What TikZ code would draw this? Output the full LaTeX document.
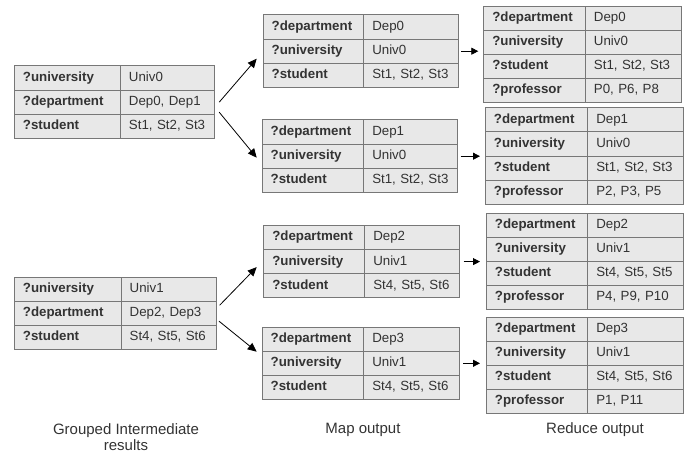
\documentclass[tikz,border=0pt]{standalone}
\usepackage{fontspec}
\setmainfont{Liberation Sans}
\usetikzlibrary{arrows.meta,calc}
\definecolor{cellfill}{HTML}{E8E8E8}
\definecolor{cellline}{HTML}{777777}
\definecolor{txt}{HTML}{333333}
\tikzset{
 cell/.style={draw=cellline, fill=cellfill, line width=0.9pt, inner xsep=8.5pt, inner ysep=0pt,
   text height=9.6pt, text depth=2.7pt, align=left, anchor=north west, text=txt,
   font=\fontsize{13.3}{15}\selectfont},
 keycell/.style={cell, font=\fontsize{13.3}{15}\selectfont\bfseries},
 bigarrow/.style={-{Triangle[length=9pt,width=8pt]}, line width=0.8pt, black},
 smallarrow/.style={-{Triangle[length=7pt,width=7pt]}, line width=0.8pt, black},
 caption/.style={font=\fontsize{15}{16}\selectfont, text=txt, align=center, inner sep=1pt}
}
\newcommand\settable[6]{\def\tbN{#1}\def\tbL{#2}\def\tbD{#3}\def\tbR{#4}\def\tbT{#5}\def\tbH{#6}}
\newcommand\trow[3]{%
 \pgfmathsetmacro\wka{\tbD-\tbL-17}%
 \pgfmathsetmacro\wkb{\tbR-\tbD-17}%
 \pgfmathsetmacro\tby{\tbT+(#1-1)*\tbH}%
 \node[keycell, text width=\wka pt, minimum height=\tbH pt] (\tbN-#1-k) at (\tbL,\tby) {#2};
 \node[cell, text width=\wkb pt, minimum height=\tbH pt] (\tbN-#1-v) at (\tbD,\tby) {#3};
}
\begin{document}
\begin{tikzpicture}[x=1pt,y=-1pt]
\useasboundingbox (0,0) rectangle (691,454);
% grouped intermediate results
\settable{G1}{14}{120}{214}{65.3}{24.3}
\trow{1}{?university}{Univ0}
\trow{2}{?department}{Dep0, Dep1}
\trow{3}{?student}{St1, St2, St3}
\settable{G2}{14}{120.7}{216}{276.7}{24.1}
\trow{1}{?university}{Univ1}
\trow{2}{?department}{Dep2, Dep3}
\trow{3}{?student}{St4, St5, St6}
% map output
\settable{MA}{262.7}{363.3}{457.7}{14.3}{24.3}
\trow{1}{?department}{Dep0}
\trow{2}{?university}{Univ0}
\trow{3}{?student}{St1, St2, St3}
\settable{MB}{261.7}{363.3}{457.3}{119.3}{24.3}
\trow{1}{?department}{Dep1}
\trow{2}{?university}{Univ0}
\trow{3}{?student}{St1, St2, St3}
\settable{MC}{263.3}{364.3}{459.3}{225}{24.1}
\trow{1}{?department}{Dep2}
\trow{2}{?university}{Univ1}
\trow{3}{?student}{St4, St5, St6}
\settable{MD}{261.7}{363.3}{458.7}{326.7}{24.1}
\trow{1}{?department}{Dep3}
\trow{2}{?university}{Univ1}
\trow{3}{?student}{St4, St5, St6}
% reduce output
\settable{RE}{483.3}{585}{680.7}{6}{23.9}
\trow{1}{?department}{Dep0}
\trow{2}{?university}{Univ0}
\trow{3}{?student}{St1, St2, St3}
\trow{4}{?professor}{P0, P6, P8}
\settable{RF}{485}{587.3}{683.3}{107.3}{24.2}
\trow{1}{?department}{Dep1}
\trow{2}{?university}{Univ0}
\trow{3}{?student}{St1, St2, St3}
\trow{4}{?professor}{P2, P3, P5}
\settable{RG}{486}{587.3}{683.3}{212.7}{24.1}
\trow{1}{?department}{Dep2}
\trow{2}{?university}{Univ1}
\trow{3}{?student}{St4, St5, St5}
\trow{4}{?professor}{P4, P9, P10}
\settable{RH}{486}{587.3}{683.3}{316.7}{24}
\trow{1}{?department}{Dep3}
\trow{2}{?university}{Univ1}
\trow{3}{?student}{St4, St5, St6}
\trow{4}{?professor}{P1, P11}
% arrows grouped -> map
\draw[bigarrow] ([xshift=4.3pt]G1-2-v.east) -- ([xshift=-6pt,yshift=-7.5pt]MA-2-k.west);
\draw[bigarrow] ([xshift=4.3pt,yshift=-10pt]G1-2-v.east) -- ([xshift=-5pt,yshift=-1.5pt]MB-2-k.west);
\draw[bigarrow] ([xshift=2.7pt,yshift=8pt]G2-2-v.east) -- ([xshift=-6.6pt,yshift=-5.5pt]MC-2-k.west);
\draw[bigarrow] ([xshift=2pt,yshift=-7.8pt]G2-2-v.east) -- ([xshift=-5pt]MD-1-k.south west);
% arrows map -> reduce
\draw[smallarrow] ([xshift=2.5pt]MA-2-v.east) -- ([xshift=-5pt]MA-2-v.east -| RE-2-k.west);
\draw[smallarrow] ([xshift=2.5pt]MB-2-v.east) -- ([xshift=-5pt]MB-2-v.east -| RF-2-k.west);
\draw[smallarrow] ([xshift=3.5pt]MC-2-v.east) -- ([xshift=-6pt]MC-2-v.east -| RG-2-k.west);
\draw[smallarrow] ([xshift=3.5pt]MD-2-v.east) -- ([xshift=-6pt]MD-2-v.east -| RH-2-k.west);
% captions
\node[caption] (capG) at (126,437) {Grouped Intermediate\\results};
\node[caption] (capM) at (363,430) {Map output};
\node[caption] (capR) at (595,430) {Reduce output};
\end{tikzpicture}
\end{document}
